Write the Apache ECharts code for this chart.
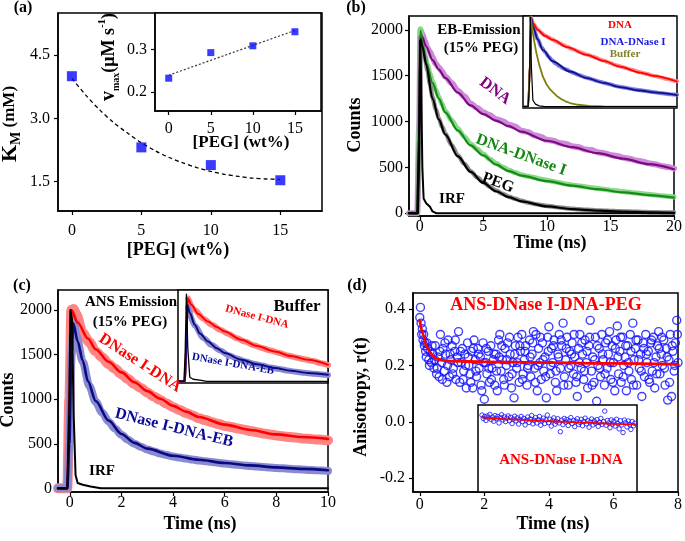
<!DOCTYPE html>
<html><head><meta charset="utf-8">
<script src="https://cdn.jsdelivr.net/npm/echarts@6/dist/echarts.min.js"></script>
<style>html,body{margin:0;padding:0;background:#fff}#c{width:685px;height:541px}</style>
</head><body><div id="c"></div>
<script>
// ---------- (a) ----------
const aPeg = [0, 5, 10, 15];
const aKm = [4.0, 2.31, 1.89, 1.53];
const aFitPeg = [0,1,2,3,4,5,6,7,8,9,10,11,12,13,14,15];
const aFitKm = [3.95,3.55,3.2,2.9,2.65,2.42,2.23,2.07,1.94,1.83,1.74,1.67,1.62,1.58,1.56,1.55];
const aVmax = [0.233, 0.293, 0.309, 0.342];
const aVfitPeg = [0, 15];
const aVfit = [0.240, 0.345];
const aPegTicks = [0, 5, 10, 15];
const aKmTicks = [1.5, 3.0, 4.5];
const aVTicks = [0.2, 0.3];

// ---------- (b) ----------
const bTicksX = [0, 5, 10, 15, 20];
const countTicks = [0, 500, 1000, 1500, 2000];
const bFitT = [-0.85,-0.2,-0.05,0.05,0.2,0.5,1,1.5,2,3,4,5,6,7,8,10,12,14,16,18,20];
const bFitDNA = [0,0,900,1960,1920,1820,1670,1565,1475,1315,1175,1080,1010,950,890,790,720,655,595,535,480];
const bFitDNase = [0,0,950,1990,1850,1640,1420,1250,1100,900,740,630,530,460,410,350,300,262,228,198,170];
const bFitPEG = [0,0,800,1900,1820,1620,1250,1020,860,620,450,330,240,175,130,75,45,28,18,10,5];
const bIrfT = [-0.85,-0.15,-0.05,0.02,0.1,0.2,0.3,0.5,0.8,1.0,1.3,20];
const bIrf = [0,0,600,1880,1500,500,160,110,70,20,0,0];
const bNoiseT = [-0.85,-0.2,-0.05,0.05,0.2,0.4,0.6,0.8,1.0,1.25,1.5,1.75,2.0,2.5,3,3.5,4,4.5,5,5.5,6,6.5,7,7.5,8,8.5,9,9.5,10,10.5,11,11.5,12,12.5,13,13.5,14,14.5,15,15.5,16,16.5,17,17.5,18,18.5,19,19.5,20];
const bNoiseDNA = [0,0,950,2000,1950,1880,1800,1760,1700,1630,1590,1545,1490,1420,1335,1275,1195,1150,1100,1070,1025,1005,965,945,900,885,850,835,800,790,765,755,730,720,695,690,665,655,635,625,605,595,575,565,545,535,515,505,488];
const bNoiseDNase = [0,0,950,2010,1870,1725,1620,1525,1440,1350,1265,1190,1115,1015,920,835,755,700,645,590,545,505,472,443,420,402,390,372,360,345,333,320,309,298,290,279,270,261,252,244,236,228,221,213,206,198,192,184,178];
const bNoisePEG = [0,0,800,1920,1830,1700,1560,1410,1265,1140,1032,945,870,745,630,540,458,393,338,290,247,212,181,158,136,117,102,91,80,71,63,55,49,43,39,35,31,28,25,22,20,18,16,14,12,11,9,8,7];
// (b) inset
const biRedT = [-1,-0.3,-0.05,0.1,0.37,1,2,3.1,5,7.7,10,12.2,15,16.8,20];
const biRed = [0,0,1000,2050,1930,1780,1640,1546,1380,1200,1060,930,790,715,584];
const biBlueT = [-1,-0.3,-0.05,0.1,0.37,1,1.7,3.1,5.4,7.7,10,12.2,15,16.8,20];
const biBlue = [0,0,1000,2050,1850,1560,1316,1046,815,662,550,455,375,330,270];
const biBufT = [-1,-0.3,-0.05,0.05,0.3,0.6,0.83,1.2,1.7,2.2,2.7,3.1,3.6,4.2,4.8,5.4,6.5,8,10,20];
const biBuf = [0,0,1000,2080,1750,1450,1240,980,700,520,400,330,250,180,125,85,45,20,5,0];
const biIrfT = [-1,-0.3,-0.1,0,0.15,0.35,0.7,1.2,2,20];
const biIrf = [0,0,600,2080,900,150,60,20,0,0];
const biNT = [0.1,0.5,1,1.5,2,2.5,3,3.5,4,4.5,5,5.5,6,6.5,7,7.5,8,8.5,9,9.5,10,10.5,11,11.5,12,12.5,13,13.5,14,14.5,15,15.5,16,16.5,17,17.5,18,18.5,19,19.5,20];
const biRedN = [2060,1905,1790,1712,1652,1600,1560,1512,1470,1428,1390,1350,1318,1280,1250,1215,1192,1160,1133,1095,1068,1035,1008,970,948,920,898,870,848,820,798,772,755,730,712,688,670,646,630,607,592];
const biBlueN = [2040,1770,1565,1385,1268,1155,1068,995,938,886,855,810,777,740,712,680,657,628,602,577,557,533,512,488,469,452,438,421,406,392,381,368,358,345,332,320,310,300,290,281,275];

// ---------- (c) ----------
const cTicksX = [0, 2, 4, 6, 8, 10];
const cRedT = [-0.46,-0.1,-0.02,0.06,0.3,0.7,1,1.5,2,2.5,3,3.5,4,4.5,5,6,7,8,9,10];
const cRed = [0,0,1000,2000,1860,1680,1560,1420,1300,1190,1090,1005,925,860,800,715,655,605,575,555];
const cBlueT = [-0.46,-0.1,-0.02,0.06,0.13,0.3,0.5,0.7,1,1.5,2,2.5,3,4,5,6,7,8,9,10];
const cBlue = [0,0,500,1500,1850,1650,1430,1200,980,760,610,510,445,365,320,285,257,235,218,203];
const cIrfT = [-0.46,-0.1,-0.03,0.02,0.08,0.15,0.22,0.3,0.5,0.8,1.2,10];
const cIrf = [0,0,800,2000,1900,800,150,60,40,20,0,0];
const cNT = [-0.46,-0.1,-0.02,0.06,0.15,0.25,0.5,0.75,1,1.25,1.5,1.75,2,2.25,2.5,2.75,3,3.25,3.5,3.75,4,4.25,4.5,4.75,5,5.25,5.5,5.75,6,6.25,6.5,6.75,7,7.25,7.5,7.75,8,8.25,8.5,8.75,9,9.25,9.5,9.75,10];
const cRedN = [0,0,1000,2000,2010,1950,1740,1640,1535,1470,1395,1340,1280,1225,1170,1125,1075,1030,990,950,910,878,845,818,785,765,742,722,700,688,672,658,642,630,615,605,592,585,575,570,560,555,548,545,538];
const cBlueN = [0,0,500,1500,1870,1710,1420,1150,970,850,748,668,600,545,500,466,436,413,392,374,357,345,334,323,313,304,295,286,278,271,264,257,250,244,239,233,228,224,219,215,211,207,203,200,196];
// (c) inset
const ciRedT = [-0.5,-0.08,0,0.08,0.3,0.7,1.28,1.8,2.27,3.26,4.2,5.24,6.2,7.21,8.4];
const ciRed = [0,0,1000,2000,1840,1620,1440,1310,1200,1000,850,720,610,521,400];
const ciBlueT = [-0.5,-0.08,0,0.06,0.2,0.49,0.8,1.28,1.8,2.27,3.26,4.2,5.24,6.2,7.21,8.4];
const ciBlue = [0,0,1000,1840,1650,1361,1150,960,800,681,521,410,321,255,201,161];
const ciIrfT = [-0.5,-0.15,-0.08,0,0.08,0.2,0.4,0.8,1.2,8.4];
const ciIrf = [0,0,600,2100,800,100,50,30,0,0];
const ciNT = [0.1,0.5,1,1.5,2,2.5,3,3.5,4,4.5,5,5.5,6,6.5,7,7.5,8,8.4];
const ciRedN = [1990,1710,1510,1365,1245,1140,1035,955,870,800,740,685,625,577,530,490,437,392];
const ciBlueN = [1790,1340,1045,875,745,628,548,480,422,380,332,297,260,233,205,184,167,155];

// ---------- (d) ----------
const dTicksX = [0, 2, 4, 6, 8];
const dTicksY = [-0.2, 0.0, 0.2, 0.4];
const dFitT = [0,0.1,0.2,0.3,0.4,0.5,0.7,1,2,4,6,8];
const dFit = [0.36,0.31,0.27,0.25,0.235,0.225,0.218,0.215,0.213,0.21,0.207,0.204];
const dPoints = [[0,0.37],[0.02,0.406],[0.04,0.35],[0.06,0.31],[0.08,0.33],[0.10,0.29],[0.12,0.31],[0.14,0.27],[0.16,0.28],[0.18,0.25],[0.20,0.23],
[0.24,0.26],[0.28,0.22],[0.32,0.25],[0.36,0.21],[0.40,0.24],[0.44,0.19],[0.48,0.27],[0.52,0.17],[0.56,0.23],[0.60,0.16],[0.64,0.31],[0.68,0.21],[0.72,0.26],[0.76,0.18],[0.80,0.24],[0.84,0.14],[0.88,0.29],[0.92,0.16],[0.96,0.22],
[1.00,0.27],[1.04,0.19],[1.08,0.25],[1.12,0.15],[1.16,0.23],[1.20,0.32],[1.24,0.14],[1.28,0.21],[1.32,0.26],[1.36,0.18],[1.40,0.24],[1.44,0.12],[1.48,0.28],[1.52,0.20],[1.56,0.17],[1.60,0.25],[1.64,0.12],[1.68,0.29],[1.72,0.22],[1.76,0.16],[1.80,0.26],[1.84,0.19],[1.88,0.23],[1.92,0.11],[1.96,0.28],
[2.00,0.08],[2.04,0.21],[2.08,0.17],[2.12,0.25],[2.16,0.14],[2.20,0.27],[2.24,0.19],[2.28,0.22],[2.32,0.13],[2.36,0.24],[2.40,0.11],[2.44,0.29],[2.48,0.31],[2.52,0.18],[2.56,0.22],[2.60,0.15],[2.64,0.26],[2.68,0.20],[2.72,0.28],[2.76,0.16],[2.80,0.24],[2.84,0.12],[2.88,0.21],[2.92,0.085],[2.96,0.27],
[3.00,0.19],[3.04,0.30],[3.08,0.14],[3.12,0.25],[3.16,0.31],[3.20,0.17],[3.24,0.22],[3.28,0.27],[3.32,0.13],[3.36,0.20],[3.40,0.29],[3.44,0.16],[3.48,0.24],[3.52,0.32],[3.56,0.19],[3.60,0.31],[3.64,0.11],[3.68,0.26],[3.72,0.21],[3.76,0.15],[3.80,0.28],[3.84,0.18],[3.88,0.23],[3.92,0.085],[3.96,0.30],
[4.00,0.337],[4.04,0.17],[4.08,0.26],[4.12,0.21],[4.16,0.29],[4.20,0.14],[4.24,0.11],[4.28,0.24],[4.32,0.31],[4.36,0.19],[4.40,0.27],[4.44,0.35],[4.48,0.16],[4.52,0.22],[4.56,0.30],[4.60,0.13],[4.64,0.25],[4.68,0.20],[4.72,0.28],[4.76,0.17],[4.80,0.23],[4.84,0.14],[4.88,0.09],[4.92,0.26],[4.96,0.31],
[5.00,0.19],[5.04,0.24],[5.08,0.15],[5.12,0.29],[5.16,0.21],[5.20,0.12],[5.24,0.27],[5.28,0.36],[5.32,0.18],[5.36,0.23],[5.40,0.14],[5.44,0.30],[5.48,0.073],[5.52,0.20],[5.56,0.26],[5.60,0.16],[5.64,0.31],[5.68,0.22],[5.72,0.13],[5.76,0.28],[5.80,0.19],[5.84,0.24],[5.88,0.32],[5.92,0.15],[5.96,0.27],
[6.00,0.21],[6.04,0.11],[6.08,0.29],[6.12,0.34],[6.16,0.17],[6.20,0.25],[6.24,0.14],[6.28,0.30],[6.32,0.20],[6.36,0.23],[6.40,0.11],[6.44,0.27],[6.48,0.18],[6.52,0.31],[6.56,0.15],[6.60,0.35],[6.64,0.22],[6.68,0.26],[6.72,0.13],[6.76,0.29],[6.80,0.19],[6.84,0.24],[6.88,0.09],[6.92,0.28],[6.96,0.16],
[7.00,0.31],[7.04,0.21],[7.08,0.25],[7.12,0.14],[7.16,0.28],[7.20,0.18],[7.24,0.30],[7.28,0.12],[7.32,0.23],[7.36,0.27],[7.40,0.32],[7.44,0.17],[7.48,0.24],[7.52,0.20],[7.56,0.29],[7.60,0.13],[7.64,0.26],[7.68,0.077],[7.72,0.22],[7.76,0.31],[7.80,0.09],[7.84,0.25],[7.88,0.18],[7.92,0.28],[7.96,0.36],[8.00,0.21]];
const dPoints2 = [[0.22,0.28],[0.30,0.20],[0.38,0.27],[0.46,0.22],[0.54,0.19],[0.62,0.25],[0.70,0.15],[0.78,0.28],[0.86,0.20],[0.94,0.24],
[1.02,0.17],[1.10,0.29],[1.18,0.21],[1.26,0.25],[1.34,0.15],[1.42,0.20],[1.50,0.23],[1.58,0.14],[1.66,0.26],[1.74,0.18],
[1.82,0.24],[1.90,0.13],[1.98,0.21],[2.06,0.26],[2.14,0.19],[2.22,0.15],[2.30,0.24],[2.38,0.18],[2.46,0.23],[2.54,0.27],
[2.62,0.13],[2.70,0.22],[2.78,0.30],[2.86,0.17],[2.94,0.24],[3.02,0.21],[3.10,0.27],[3.18,0.15],[3.26,0.25],[3.34,0.19],
[3.42,0.23],[3.50,0.28],[3.58,0.14],[3.66,0.20],[3.74,0.30],[3.82,0.22],[3.90,0.16],[3.98,0.25],[4.06,0.20],[4.14,0.27],
[4.22,0.18],[4.30,0.23],[4.38,0.29],[4.46,0.13],[4.54,0.26],[4.62,0.19],[4.70,0.24],[4.78,0.31],[4.86,0.16],[4.94,0.21],
[5.02,0.28],[5.10,0.18],[5.18,0.25],[5.26,0.30],[5.34,0.13],[5.42,0.22],[5.50,0.27],[5.58,0.19],[5.66,0.24],[5.74,0.17],
[5.82,0.29],[5.90,0.21],[5.98,0.14],[6.06,0.26],[6.14,0.23],[6.22,0.30],[6.30,0.16],[6.38,0.27],[6.46,0.21],[6.54,0.25],
[6.62,0.13],[6.70,0.29],[6.78,0.22],[6.86,0.18],[6.94,0.26],[7.02,0.24],[7.10,0.15],[7.18,0.29],[7.26,0.21],[7.34,0.17],
[7.42,0.26],[7.50,0.30],[7.58,0.19],[7.66,0.23],[7.74,0.14],[7.82,0.27],[7.90,0.20],[7.98,0.31]];
// (d) inset
const diFitT = [1.9,3,4,5,6,6.6];
const diFit = [0.016,0.008,0.002,-0.003,-0.007,-0.009];
const diPoints = [[1.90,0.024],[1.94,0.012],[1.98,0.019],[2.02,0.005],[2.06,0.021],[2.10,0.014],[2.14,0.026],[2.18,0.008],[2.22,0.017],[2.26,0.002],[2.30,0.022],[2.34,0.011],[2.38,0.019],[2.42,-0.004],[2.46,0.015],[2.50,0.025],[2.54,0.007],[2.58,0.018],[2.62,0.001],[2.66,0.013],[2.70,0.021],[2.74,0.004],[2.78,0.016],[2.82,-0.006],[2.86,0.010],[2.90,0.020],[2.94,0.003],[2.98,0.014],
[3.02,-0.008],[3.06,0.009],[3.10,0.019],[3.14,0.001],[3.18,0.012],[3.22,-0.011],[3.26,0.006],[3.30,0.017],[3.34,-0.002],[3.38,0.010],[3.42,0.022],[3.46,-0.007],[3.50,0.005],[3.54,0.015],[3.58,-0.004],[3.62,0.008],[3.66,0.019],[3.70,-0.012],[3.74,0.003],[3.78,0.013],[3.82,-0.006],[3.86,0.007],[3.90,0.024],[3.94,-0.003],[3.98,0.009],
[4.02,-0.015],[4.06,0.004],[4.10,0.014],[4.14,-0.008],[4.18,0.001],[4.22,0.011],[4.26,-0.004],[4.30,-0.035],[4.34,0.006],[4.38,-0.010],[4.42,0.012],[4.46,-0.001],[4.50,0.008],[4.54,-0.013],[4.58,0.003],[4.62,0.015],[4.66,-0.006],[4.70,0.005],[4.74,-0.017],[4.78,0.002],[4.82,0.011],[4.86,-0.009],[4.90,-0.002],[4.94,0.009],[4.98,-0.014],
[5.02,0.001],[5.06,0.013],[5.10,-0.007],[5.14,0.004],[5.18,-0.019],[5.22,-0.001],[5.26,0.010],[5.30,-0.011],[5.34,0.003],[5.38,-0.005],[5.42,0.008],[5.46,-0.016],[5.50,-0.002],[5.54,0.012],[5.58,-0.009],[5.62,0.001],[5.66,0.038],[5.70,-0.012],[5.74,0.005],[5.78,-0.004],[5.82,-0.021],[5.86,0.007],[5.90,-0.008],[5.94,0.002],[5.98,-0.015],
[6.02,0.009],[6.06,-0.006],[6.10,-0.025],[6.14,0.004],[6.18,-0.011],[6.22,-0.038],[6.26,0.006],[6.30,-0.003],[6.34,-0.018],[6.38,0.003],[6.42,-0.009],[6.46,-0.027],[6.50,0.001],[6.54,-0.014],[6.58,-0.005]];

// ---------- build ----------
const FF = '"Liberation Serif", "Times New Roman", serif';
const pairs = (xs, ys) => xs.map((x, i) => [x, ys[i]]);

function grid(l, t, w, h, inset) {
  return {left: l, top: t, width: w, height: h, show: true, borderColor: '#000', borderWidth: 1.5,
          backgroundColor: inset ? '#fff' : 'transparent', z: inset ? 5 : 0, containLabel: false};
}
function axis(gi, min, max, ticks, margin, fmt, inset) {
  const a = {type: 'value', gridIndex: gi, min: min, max: max, z: inset ? 6 : 0, splitLine: {show: false}};
  if (!ticks) { a.show = false; return a; }
  a.axisLine = {show: true, onZero: false, lineStyle: {color: '#000', width: 1.5}};
  a.axisTick = {show: true, inside: false, length: 4, customValues: ticks, lineStyle: {color: '#000', width: 1.2}};
  a.axisLabel = {show: true, customValues: ticks, margin: margin, fontFamily: FF, fontSize: 16, color: '#000',
                 formatter: fmt || (v => String(v))};
  return a;
}
const f1 = v => v.toFixed(1);

function line(gi, data, color, width, z, extra) {
  return Object.assign({type: 'line', xAxisIndex: gi, yAxisIndex: gi, data: data, symbol: 'none', showSymbol: false,
    lineStyle: {color: color, width: width, join: 'round', cap: 'round'}, z: z, silent: true, animation: false}, extra || {});
}
const sm = {smooth: 0.3, smoothMonotone: 'x'};

function circles(gi, data, size, bw, z) {
  return {type: 'scatter', xAxisIndex: gi, yAxisIndex: gi, data: data, symbol: 'circle', symbolSize: size,
   itemStyle: {color: 'rgba(0,0,0,0)', borderColor: '#1010ff', borderWidth: bw}, z: z, silent: true};
}

const series = [
  // (a)
  line(0, pairs(aFitPeg, aFitKm), '#000', 1.3, 2, {lineStyle: {color: '#000', width: 1.3, type: [4, 3]}, smooth: 0.3}),
  {type: 'scatter', xAxisIndex: 0, yAxisIndex: 0, data: pairs(aPeg, aKm), symbol: 'rect', symbolSize: 10,
   itemStyle: {color: '#0a0aff'}, z: 3, silent: true},
  line(1, pairs(aVfitPeg, aVfit), '#000', 1.2, 6, {lineStyle: {color: '#333', width: 1.2, type: [2, 2]}}),
  {type: 'scatter', xAxisIndex: 1, yAxisIndex: 1, data: pairs(aPeg, aVmax), symbol: 'rect', symbolSize: 7,
   itemStyle: {color: '#0a0aff'}, z: 7, silent: true},
  // (b)
  line(2, pairs(bNoiseT, bNoiseDNA), '#cc8ad8', 6, 2, sm),
  line(2, pairs(bNoiseT, bNoiseDNase), '#8ad68a', 5, 2, sm),
  line(2, pairs(bNoiseT, bNoisePEG), '#8c8c8c', 4.5, 2, sm),
  line(2, pairs(bFitT, bFitDNA), '#7d0a80', 2.2, 3, sm),
  line(2, pairs(bFitT, bFitDNase), '#128c12', 2.2, 3, sm),
  line(2, pairs(bFitT, bFitPEG), '#000', 2.2, 3, sm),
  line(2, pairs(bIrfT, bIrf), '#000', 2, 4),
  // (b) inset
  line(3, pairs(biNT, biRedN), '#ff8a8a', 4, 6, sm),
  line(3, pairs(biNT, biBlueN), '#7a7ae0', 4, 6, sm),
  line(3, pairs(biRedT, biRed), '#ff0000', 1.8, 7, sm),
  line(3, pairs(biBlueT, biBlue), '#10108a', 1.8, 7, sm),
  line(3, pairs(biBufT, biBuf), '#7f7f10', 1.8, 7),
  line(3, pairs(biIrfT, biIrf), '#000', 1.2, 8),
  // (c)
  line(4, pairs(cNT, cRedN), '#ff8484', 10, 2, sm),
  line(4, pairs(cNT, cBlueN), '#8a8ad2', 8, 2, sm),
  line(4, pairs(cRedT, cRed), '#ff0000', 2.6, 3, sm),
  line(4, pairs(cBlueT, cBlue), '#0a0a80', 2.6, 3, sm),
  line(4, pairs(cIrfT, cIrf), '#000', 2, 4),
  // (c) inset
  line(5, pairs(ciNT, ciRedN), '#ff8484', 6, 6, sm),
  line(5, pairs(ciNT, ciBlueN), '#8a8ad2', 6, 6, sm),
  line(5, pairs(ciRedT, ciRed), '#ff0000', 2, 7, sm),
  line(5, pairs(ciBlueT, ciBlue), '#0a0a80', 2, 7, sm),
  line(5, pairs(ciIrfT, ciIrf), '#000', 1.3, 8),
  // (d)
  circles(6, dPoints, 8, 1.4, 2),
  circles(6, dPoints2, 8, 1.4, 2),
  line(6, pairs(dFitT, dFit), '#ff0000', 2.8, 3, sm),
  // (d) inset
  circles(7, diPoints, 4.5, 1, 6),
  line(7, pairs(diFitT, diFit), '#ff0000', 1.8, 7, sm)
];

function txt(text, x, y, size, color, rotDeg, extra) {
  const st = Object.assign({text: text, font: 'bold ' + size + 'px ' + FF, fill: color || '#000',
    align: 'center', verticalAlign: 'middle', textAlign: 'center', textVerticalAlign: 'middle'}, extra || {});
  return {type: 'text', x: x, y: y, rotation: (rotDeg || 0) * Math.PI / 180, z: 100, silent: true, style: st};
}
const B = (s) => ({fontFamily: FF, fontWeight: 'bold', fontSize: s, fill: '#000'});

const graphics = [
  txt('(a)', 23, 8, 16), txt('(b)', 356, 8, 16), txt('(c)', 22, 286, 16), txt('(d)', 357, 286, 16),
  // (a)
  txt('{k|K}{m|M}{n| (mM)}', 10, 124, 18, '#000', 90, {rich: {
     k: Object.assign(B(22), {verticalAlign: 'middle', lineHeight: 26}),
     m: Object.assign(B(14), {verticalAlign: 'bottom'}),
     n: Object.assign(B(17), {verticalAlign: 'middle'})}}),
  txt('[PEG] (wt%)', 178, 250, 18),
  txt('[PEG] (wt%)', 241, 143, 17),
  txt('{v|v}{s|max}{n|(\u03bcM s}{p|-1}{n|)}', 109, 57, 18, '#000', 90, {rich: {
     v: Object.assign(B(20), {verticalAlign: 'middle', lineHeight: 24}),
     s: Object.assign(B(10), {verticalAlign: 'bottom'}),
     n: Object.assign(B(18), {verticalAlign: 'middle'}),
     p: Object.assign(B(11), {verticalAlign: 'top'})}}),
  // (b)
  txt('Counts', 355, 125, 18, '#000', 90),
  txt('Time (ns)', 550, 243, 18),
  txt('EB-Emission', 479, 30, 15), txt('(15% PEG)', 481, 48, 15),
  txt('DNA', 495, 91, 16, '#800080', -37),
  txt('DNA-DNase I', 521, 155, 16, '#118811', -20),
  txt('PEG', 498, 183, 16, '#000', -20),
  txt('IRF', 452, 199, 15),
  txt('DNA', 620, 25, 11, '#ff0000'),
  txt('DNA-DNase I', 633, 42, 11, '#1a1ae6'),
  txt('Buffer', 625, 54, 11, '#80802a'),
  // (c)
  txt('Counts', 8, 400, 18, '#000', 90),
  txt('Time (ns)', 200, 524, 18),
  txt('ANS Emission', 131, 302, 15), txt('(15% PEG)', 130, 322, 15),
  txt('DNase I-DNA', 140, 363, 16, '#ff0000', -33),
  txt('DNase I-DNA-EB', 174, 428, 16, '#0a0a99', -14),
  txt('IRF', 102, 471, 15),
  txt('Buffer', 297, 307, 17),
  txt('DNase I-DNA', 257, 317, 11, '#ff0000', -15),
  txt('DNase I-DNA-EB', 233, 364, 11, '#0a0a99', -10),
  // (d)
  txt('Anisotropy, r(t)', 361, 397, 18, '#000', 90),
  txt('Time (ns)', 553, 524, 18),
  txt('ANS-DNase I-DNA-PEG', 546, 305, 18, '#ff0000'),
  txt('ANS-DNase I-DNA', 561, 460, 15, '#ff0000')
];

const option = {
  animation: false,
  backgroundColor: '#fff',
  grid: [grid(58, 13, 264, 198), grid(155, 13, 166, 98, true),
         grid(409, 16, 269, 200), grid(523, 16, 154, 92, true),
         grid(58, 290, 270, 202), grid(178, 290, 150, 93, true),
         grid(413, 293, 268, 199), grid(478, 405, 159, 87, true)],
  xAxis: [axis(0, -1, 18, aPegTicks, 12), axis(1, -1.63, 18.1, aPegTicks, 10, null, true),
          axis(2, -0.85, 20, bTicksX, 3), axis(3, -1, 20, null, 0, null, true),
          axis(4, -0.46, 10, cTicksX, 3), axis(5, -0.5, 8.4, null, 0, null, true),
          axis(6, -0.21, 8, dTicksX, 5), axis(7, 1.777, 6.648, null, 0, null, true)],
  yAxis: [axis(0, 0.8, 5.5, aKmTicks, 8, f1), axis(1, 0.156, 0.386, aVTicks, 8, f1, true),
          axis(2, -30, 2150, countTicks, 6), axis(3, -30, 2100, null, 0, null, true),
          axis(4, -41, 2224, countTicks, 6), axis(5, -40, 2200, null, 0, null, true),
          axis(6, -0.249, 0.457, dTicksY, 8, f1), axis(7, -0.249, 0.0597, null, 0, null, true)],
  series: series,
  graphic: graphics
};
const chart = echarts.init(document.getElementById('c'), null, {renderer: 'canvas'});
chart.setOption(option);
</script></body></html>
